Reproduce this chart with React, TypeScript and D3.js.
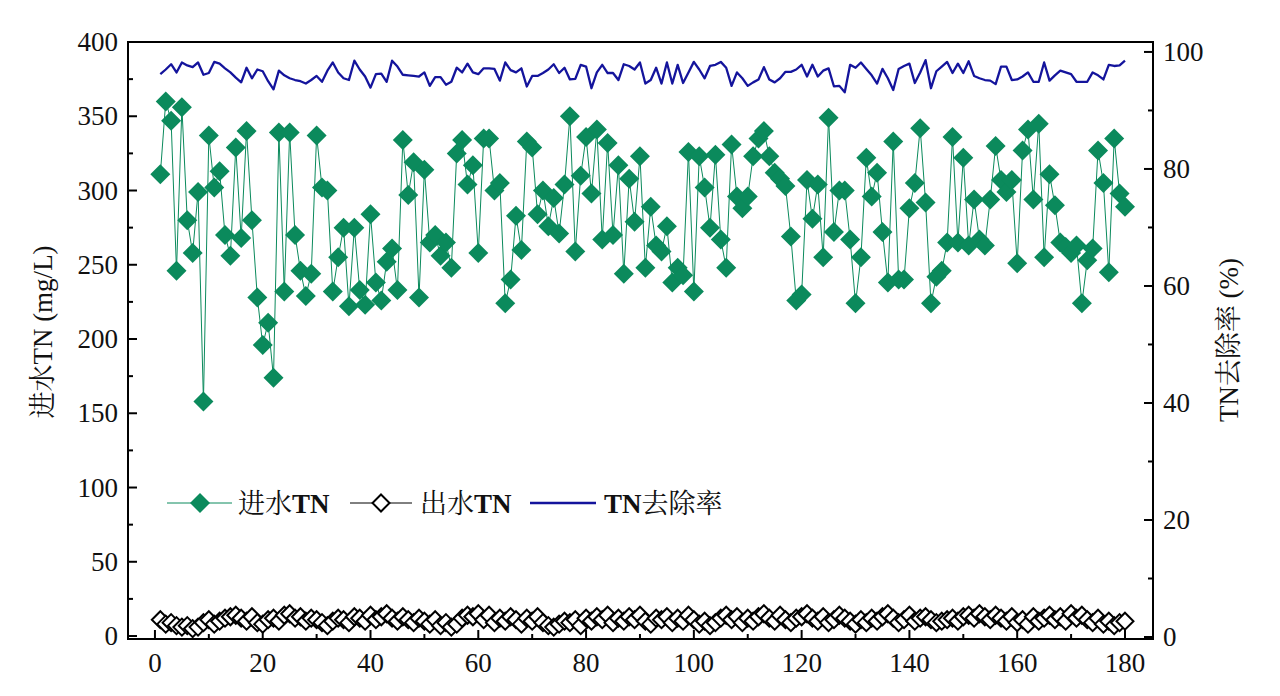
import React from "react";
import * as d3 from "d3";

const inletTN: number[] = [
  311, 360, 347, 246, 356, 280, 258, 299, 158, 337,
  302, 313, 270, 256, 329, 268, 340, 280, 228, 196,
  211, 174, 339, 232, 339, 270, 246, 229, 244, 337,
  302, 300, 232, 255, 275, 222, 275, 233, 223, 284,
  238, 226, 252, 261, 233, 334, 297, 319, 228, 314,
  265, 270, 256, 265, 248, 325, 334, 304, 317, 258,
  335, 335, 300, 305, 224, 240, 283, 260, 333, 329,
  284, 300, 276, 295, 271, 304, 350, 259, 310, 336,
  298, 341, 267, 332, 270, 317, 244, 308, 279, 323,
  248, 289, 263, 259, 276, 238, 248, 243, 326, 232,
  323, 302, 275, 324, 267, 248, 331, 296, 288, 296,
  323, 335, 340, 323, 312, 308, 303, 269, 226, 230,
  307, 281, 304, 255, 349, 272, 300, 300, 267, 224,
  255, 322, 296, 312, 272, 238, 333, 240, 240, 288,
  305, 342, 292, 224, 242, 246, 265, 336, 265, 322,
  263, 294, 267, 263, 294, 330, 307, 299, 307, 251,
  327, 341, 294, 345, 255, 311, 290, 265, 262, 258,
  263, 224, 253, 261, 327, 305, 245, 335, 298, 289,
];

const effluentTN: number[] = [
  11, 8, 9, 7, 6, 7, 5, 6, 9, 11,
  8, 10, 12, 13, 14, 12, 10, 13, 9, 8,
  11, 12, 10, 14, 15, 12, 13, 10, 12, 11,
  9, 7, 10, 12, 11, 9, 13, 12, 10, 14,
  11, 13, 15, 12, 10, 13, 11, 9, 12, 10,
  8, 11, 7, 9, 6, 8, 12, 14, 13, 15,
  11, 14, 9, 12, 10, 13, 11, 8, 12, 10,
  13, 9, 7, 6, 8, 10, 9, 11, 7, 12,
  10, 13, 11, 14, 9, 12, 10, 13, 11, 14,
  10, 8, 12, 11, 13, 9, 12, 10, 14, 11,
  8, 10, 7, 9, 12, 14, 11, 13, 9, 12,
  10, 13, 15, 12, 10, 14, 11, 9, 12, 13,
  15, 12, 10, 13, 9, 11, 14, 12, 10, 8,
  11, 9, 12, 10, 13, 15, 12, 9, 11, 14,
  10, 12, 13, 11, 9, 10, 11, 12, 10, 13,
  14, 12, 15, 13, 11, 14, 12, 10, 13, 9,
  11, 8, 13, 10, 12, 14, 11, 13, 10, 15,
  12, 14, 11, 9, 12, 8, 10, 7, 9, 10,
];

const removalRate: number[] = [
  96.2, 97.0, 97.9, 96.5, 98.2, 97.7, 97.4, 98.2, 96.1, 96.4,
  98.3, 98.0, 97.2, 96.5, 95.6, 94.8, 97.3, 95.5, 97.0, 96.7,
  95.0, 93.6, 96.8, 96.0, 95.5, 95.2, 95.0, 94.6, 95.2, 95.9,
  94.9, 96.8, 98.2, 96.5, 95.5, 95.2, 98.5, 97.0, 95.8, 93.9,
  96.2, 96.3, 94.9, 98.5, 97.5, 96.1, 96.0, 95.9, 95.8, 96.5,
  94.2, 95.7, 95.7, 94.4, 94.9, 97.3, 96.5, 98.0, 96.5, 96.2,
  97.2, 97.2, 97.1, 95.1, 98.2, 96.9, 96.5, 97.2, 94.1, 95.9,
  95.9, 96.4, 97.0, 97.9, 96.4, 97.3, 95.3, 95.4, 97.8, 97.5,
  93.8, 96.5, 97.8, 96.4, 96.4, 95.2, 97.9, 97.6, 97.0, 98.2,
  94.6, 95.2, 97.3, 94.6, 98.2, 94.6, 97.8, 94.7, 96.5, 98.3,
  97.0, 95.5, 97.6, 97.8, 98.3, 97.3, 94.2, 96.5, 95.5, 94.2,
  94.8, 95.3, 97.4, 95.3, 94.8, 95.5, 96.6, 96.6, 97.0, 97.8,
  95.8, 97.8, 95.8, 96.8, 97.2, 94.1, 94.2, 93.1, 97.8, 97.3,
  98.2, 97.1, 96.0, 94.6, 97.1, 95.5, 93.5, 97.1, 97.6, 98.0,
  94.7, 96.5, 98.6, 93.8, 96.7, 97.5, 98.3, 96.4, 98.0, 96.4,
  98.4, 95.9, 95.5, 95.2, 95.1, 94.5, 97.5, 97.5, 95.2, 95.3,
  95.8, 96.5, 94.9, 94.9, 98.2, 95.1, 96.0, 96.8, 96.5, 96.2,
  94.9, 94.9, 94.9, 96.5, 96.0, 95.3, 97.8, 97.6, 97.7, 98.5,
];

const days: number[] = inletTN.map((_, i) => i + 1);
const xTicks: number[] = [0, 20, 40, 60, 80, 100, 120, 140, 160, 180];
const leftTicks: number[] = [0, 50, 100, 150, 200, 250, 300, 350, 400];
const rightTicks: number[] = [0, 20, 40, 60, 80, 100];

const W = 1280;
const H = 696;
const L = 128, R = 1153, T = 42, B = 639;
const GREEN = "#0b8a5c";
const BLUE = "#14149c";
const FONT = "'Liberation Serif', 'Times New Roman', 'Noto Sans CJK SC', serif";
const CJK = "'Noto Serif CJK SC', 'Noto Sans CJK SC', serif";
const FS = 27;

function diamond(x: number, y: number, r: number) {
  return `M${x},${y - r}L${x + r},${y}L${x},${y + r}L${x - r},${y}Z`;
}

export default function App() {
  const x = d3.scaleLinear().domain([-5, 185.2]).range([L, R]);
  const yL = d3.scaleLinear().domain([-2, 400]).range([B, T]);
  const yR = d3.scaleLinear().domain([-0.34, 101.7]).range([B, T]);

  const inletLine = d3.line<number>().x((_, i) => x(days[i])).y((d) => yL(d))(inletTN) || "";
  const effLine = d3.line<number>().x((_, i) => x(days[i])).y((d) => yL(d))(effluentTN) || "";
  const rateLine = d3.line<number>().x((_, i) => x(days[i])).y((d) => yR(d))(removalRate) || "";

  const xMinor = d3.range(10, 185, 20);
  const lMinor = d3.range(25, 400, 50);
  const rMinor = d3.range(10, 100, 20);

  const legY = 503;

  return (
    <div style={{ position: "absolute", left: 0, top: 0 }}>
      <svg width={W} height={H} style={{ display: "block", background: "#fff" }}>
        <g stroke="#000" strokeWidth={2}>
          {xTicks.map((t) => (
            <line key={"xt" + t} x1={x(t)} x2={x(t)} y1={B} y2={B - 9} />
          ))}
          {xMinor.map((t) => (
            <line key={"xm" + t} x1={x(t)} x2={x(t)} y1={B} y2={B - 5} />
          ))}
          {leftTicks.map((t) => (
            <line key={"lt" + t} x1={L} x2={L + 9} y1={yL(t)} y2={yL(t)} />
          ))}
          {lMinor.map((t) => (
            <line key={"lm" + t} x1={L} x2={L + 5} y1={yL(t)} y2={yL(t)} />
          ))}
          {rightTicks.map((t) => (
            <line key={"rt" + t} x1={R} x2={R - 9} y1={yR(t)} y2={yR(t)} />
          ))}
          {rMinor.map((t) => (
            <line key={"rm" + t} x1={R} x2={R - 5} y1={yR(t)} y2={yR(t)} />
          ))}
        </g>

        <path d={rateLine} fill="none" stroke={BLUE} strokeWidth={2.3} strokeLinejoin="round" />

        <path d={inletLine} fill="none" stroke={GREEN} strokeWidth={1} />
        {inletTN.map((v, i) => (
          <path key={"in" + i} d={diamond(x(days[i]), yL(v), 10)} fill={GREEN} />
        ))}

        <path d={effLine} fill="none" stroke="#000" strokeWidth={1} />
        {effluentTN.map((v, i) => (
          <path key={"ef" + i} d={diamond(x(days[i]), yL(v), 8.5)} fill="#fff" stroke="#000" strokeWidth={2} />
        ))}

        <rect x={L} y={T} width={R - L} height={B - T} fill="none" stroke="#000" strokeWidth={2} />

        <g fontFamily={FONT} fontSize={FS} fill="#111">
          {xTicks.map((t) => (
            <text key={"xl" + t} x={x(t)} y={672} textAnchor="middle">{t}</text>
          ))}
          {leftTicks.map((t) => (
            <text key={"ll" + t} x={118} y={yL(t) + 9} textAnchor="end">{t}</text>
          ))}
          {rightTicks.map((t) => (
            <text key={"rl" + t} x={1163} y={yR(t) + 9} textAnchor="start">{t}</text>
          ))}
        </g>

        <text
          transform={`translate(52, 332) rotate(-90)`}
          textAnchor="middle"
          fontSize={FS}
          fill="#111"
          fontFamily={FONT}
        >
          <tspan fontFamily={CJK}>进水</tspan>TN (mg/L)
        </text>
        <text
          transform={`translate(1238, 340) rotate(-90)`}
          textAnchor="middle"
          fontSize={FS}
          fill="#111"
          fontFamily={FONT}
        >
          TN<tspan fontFamily={CJK}>去除率</tspan> (%)
        </text>

        <g>
          <line x1={167} x2={232} y1={legY} y2={legY} stroke={GREEN} strokeWidth={1} />
          <path d={diamond(200, legY, 10)} fill={GREEN} />
          <text x={238} y={legY + 10} fontSize={FS} fill="#111" fontFamily={FONT}>
            <tspan fontFamily={CJK}>进水</tspan>
            <tspan fontWeight="bold">TN</tspan>
          </text>

          <line x1={350} x2={412} y1={legY} y2={legY} stroke="#000" strokeWidth={1} />
          <path d={diamond(381, legY, 8.5)} fill="#fff" stroke="#000" strokeWidth={2} />
          <text x={420} y={legY + 10} fontSize={FS} fill="#111" fontFamily={FONT}>
            <tspan fontFamily={CJK}>出水</tspan>
            <tspan fontWeight="bold">TN</tspan>
          </text>

          <line x1={530} x2={596} y1={legY} y2={legY} stroke={BLUE} strokeWidth={2.3} />
          <text x={604} y={legY + 10} fontSize={FS} fill="#111" fontFamily={FONT}>
            <tspan fontWeight="bold">TN</tspan>
            <tspan fontFamily={CJK}>去除率</tspan>
          </text>
        </g>
      </svg>
    </div>
  );
}
